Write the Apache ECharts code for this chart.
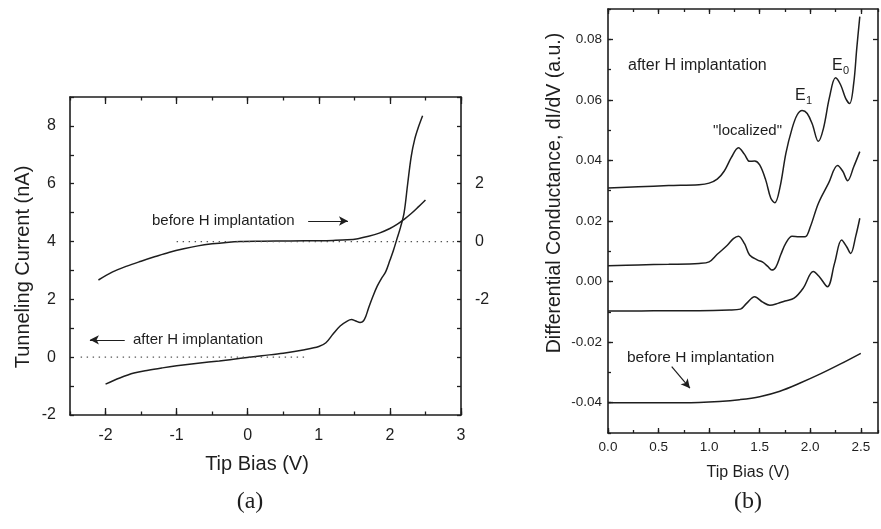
<!DOCTYPE html>
<html><head><meta charset="utf-8">
<script src="https://cdn.jsdelivr.net/npm/echarts@6/dist/echarts.min.js"></script>
<style>html,body{margin:0;padding:0;background:#fff}#c{width:881px;height:529px}</style>
</head><body><div id="c"></div>
<script>
// ---------- Panel (a): tunneling current vs tip bias ----------
const aBeforeX = [-2.1, -1.9, -1.7, -1.5, -1.3, -1.1, -0.9, -0.7, -0.5, -0.3, -0.1, 0.2, 0.6, 1.0, 1.2, 1.4, 1.55, 1.7, 1.85, 2.0, 2.1, 2.2, 2.3, 2.4, 2.5];
const aBeforeY = [-1.33, -1.05, -0.85, -0.68, -0.52, -0.37, -0.25, -0.15, -0.08, -0.03, 0, 0.01, 0.02, 0.03, 0.04, 0.06, 0.1, 0.18, 0.29, 0.45, 0.59, 0.77, 0.97, 1.2, 1.44]; // right axis
const aAfterX = [-2.0, -1.8, -1.6, -1.4, -1.2, -1.0, -0.7, -0.4, -0.1, 0.2, 0.5, 0.8, 1.0, 1.1, 1.2, 1.3, 1.4, 1.46, 1.52, 1.58, 1.64, 1.7, 1.76, 1.82, 1.88, 1.94, 2.0, 2.05, 2.1, 2.15, 2.2, 2.25, 2.3, 2.35, 2.4, 2.46];
const aAfterY = [-0.93, -0.72, -0.55, -0.45, -0.37, -0.30, -0.21, -0.13, -0.04, 0.05, 0.14, 0.26, 0.37, 0.5, 0.8, 1.08, 1.25, 1.3, 1.25, 1.2, 1.3, 1.7, 2.1, 2.45, 2.72, 2.95, 3.35, 3.7, 4.1, 4.5, 5.0, 6.0, 6.95, 7.55, 7.95, 8.35]; // left axis
const aZeroBeforeX = [-1, 3];      // dotted zero of "before" (right axis)
const aZeroAfterX = [-2.35, 0.8];  // dotted zero of "after" (left axis)
const aXLabels = [-2, -1, 0, 1, 2, 3];
const aYLeftLabels = [-2, 0, 2, 4, 6, 8];
const aYRightLabels = [-2, 0, 2];

// ---------- Panel (b): differential conductance ----------
const bTopX = [0, 0.3, 0.6, 0.9, 1.0, 1.08, 1.15, 1.22, 1.29, 1.35, 1.4, 1.45, 1.5, 1.56, 1.61, 1.65, 1.7, 1.76, 1.82, 1.87, 1.92, 1.97, 2.02, 2.08, 2.13, 2.19, 2.25, 2.3, 2.35, 2.39, 2.43, 2.46, 2.49];
const bTopY = [0.0309, 0.0313, 0.0317, 0.032, 0.0325, 0.0338, 0.0365, 0.041, 0.0442, 0.042, 0.0397, 0.0398, 0.0385, 0.0335, 0.0275, 0.026, 0.031, 0.0425, 0.0505, 0.055, 0.0565, 0.0555, 0.052, 0.0463, 0.0505, 0.0608, 0.0673, 0.065, 0.0605, 0.0588, 0.0655, 0.077, 0.0875];
const bMidX = [0, 0.3, 0.6, 0.9, 1.0, 1.08, 1.18, 1.24, 1.29, 1.35, 1.4, 1.48, 1.53, 1.58, 1.62, 1.66, 1.71, 1.76, 1.82, 1.89, 1.95, 2.0, 2.08, 2.18, 2.27, 2.32, 2.37, 2.43, 2.49];
const bMidY = [0.0052, 0.0055, 0.0057, 0.006, 0.0065, 0.009, 0.012, 0.0142, 0.015, 0.0125, 0.0088, 0.0071, 0.0064, 0.005, 0.0038, 0.0048, 0.009, 0.0128, 0.015, 0.0148, 0.0148, 0.018, 0.0258, 0.0324, 0.0383, 0.0365, 0.0333, 0.0379, 0.0429];
const bLowX = [0, 0.3, 0.6, 0.9, 1.2, 1.31, 1.37, 1.45, 1.53, 1.6, 1.68, 1.75, 1.84, 1.93, 2.03, 2.09, 2.17, 2.24, 2.31, 2.36, 2.4, 2.45, 2.49];
const bLowY = [-0.0097, -0.0097, -0.0096, -0.0096, -0.0094, -0.0091, -0.0072, -0.005, -0.0068, -0.0078, -0.0072, -0.0064, -0.0055, -0.0022, 0.0033, 0.0016, -0.0017, 0.006, 0.0137, 0.0115, 0.0093, 0.015, 0.0209];
const bBeforeX = [0, 0.5, 0.9, 1.1, 1.3, 1.5, 1.7, 1.9, 2.1, 2.3, 2.5];
const bBeforeY = [-0.04, -0.04, -0.0399, -0.0396, -0.039, -0.038, -0.0362, -0.0335, -0.0305, -0.0272, -0.0237];
const bXLabels = [0, 0.5, 1, 1.5, 2, 2.5];
const bYLabels = [-0.04, -0.02, 0, 0.02, 0.04, 0.06, 0.08];

// ---------- helpers ----------
const zip = (xs, ys) => xs.map((x, i) => [x, ys[i]]);
const near = (list, v) => list.some(t => Math.abs(t - v) < 1e-9);
const INK = '#1e1e1e';
const FONT = '"Liberation Sans", Arial, Helvetica, sans-serif';

function axis(dim, o) {
  return {
    type: 'value', gridIndex: o.grid, position: o.pos,
    min: o.min, max: o.max, interval: o.step,
    axisLine: { show: o.line !== false, onZero: false, lineStyle: { color: INK, width: 1.6 } },
    axisTick: Object.assign({ show: true, inside: true, length: o.tick || 3.5, lineStyle: { color: INK, width: 1.3 } },
                            o.custom ? { customValues: o.custom } : {}),
    axisLabel: o.fmt ? { show: true, formatter: o.fmt, color: INK, fontFamily: FONT, fontSize: o.fs || 15, margin: o.margin || 10 } : { show: false },
    splitLine: { show: false },
    z: 5
  };
}

const fmtA = v => near(aXLabels, v) ? String(Math.round(v)) : '';
const fmtAL = v => near(aYLeftLabels, v) ? String(Math.round(v)) : '';
const fmtAR = v => near(aYRightLabels, v) ? String(Math.round(v)) : '';
const fmtBX = v => near(bXLabels, v) ? v.toFixed(1) : '';
const fmtBY = v => near(bYLabels, v) ? (Math.abs(v) < 1e-9 ? '0.00' : v.toFixed(2)) : '';

const B_MAX = 2.67;
const xAxes = [
  axis('x', { grid: 0, pos: 'bottom', min: -2.5, max: 3, step: 0.5, tick: 3.5, fmt: fmtA, fs: 16, margin: 13 }),
  axis('x', { grid: 0, pos: 'bottom', min: -2.5, max: 3, step: 0.5, tick: 7, line: false, custom: aXLabels }),
  axis('x', { grid: 0, pos: 'top', min: -2.5, max: 3, step: 0.5, tick: 3.5 }),
  axis('x', { grid: 0, pos: 'top', min: -2.5, max: 3, step: 0.5, tick: 7, line: false, custom: aXLabels }),
  axis('x', { grid: 1, pos: 'bottom', min: 0, max: B_MAX, step: 0.25, tick: 3, fmt: fmtBX, fs: 13.5, margin: 7 }),
  axis('x', { grid: 1, pos: 'bottom', min: 0, max: B_MAX, step: 0.25, tick: 5, line: false, custom: bXLabels }),
  axis('x', { grid: 1, pos: 'top', min: 0, max: B_MAX, step: 0.25, tick: 3 }),
  axis('x', { grid: 1, pos: 'top', min: 0, max: B_MAX, step: 0.25, tick: 5, line: false, custom: bXLabels })
];
const yAxes = [
  axis('y', { grid: 0, pos: 'left', min: -2, max: 9, step: 1, tick: 4, fmt: fmtAL, fs: 16, margin: 14 }),
  axis('y', { grid: 0, pos: 'right', min: -6, max: 5, step: 1, tick: 4, fmt: fmtAR, fs: 16, margin: 14 }),
  axis('y', { grid: 1, pos: 'left', min: -0.05, max: 0.09, step: 0.01, tick: 3, fmt: fmtBY, fs: 13.5, margin: 6 }),
  axis('y', { grid: 1, pos: 'left', min: -0.05, max: 0.09, step: 0.01, tick: 5, line: false, custom: bYLabels }),
  axis('y', { grid: 1, pos: 'right', min: -0.05, max: 0.09, step: 0.01, tick: 5, custom: bYLabels })
];

const curve = (name, data, xi, yi, extra) => Object.assign({
  name, type: 'line', data, xAxisIndex: xi, yAxisIndex: yi,
  showSymbol: false, smooth: 0.35, animation: false, silent: true,
  lineStyle: { color: INK, width: 1.5 }, z: 3
}, extra || {});

const dotted = (name, data, xi, yi) => curve(name, data, xi, yi, {
  smooth: false, lineStyle: { color: '#555', width: 1.3, type: [1.4, 4.6] }
});

const arrow = (from, to) => ({
  silent: true, animation: false, symbol: ['none', 'arrow'], symbolSize: [7, 9],
  label: { show: false }, lineStyle: { color: INK, width: 1.2, type: 'solid' },
  data: [[{ coord: from }, { coord: to }]]
});

const txt = (text, x, y, fs, o) => ({
  type: 'text', x, y, rotation: (o && o.rot) || 0, silent: true,
  style: {
    text, fill: INK, fontSize: fs, fontFamily: (o && o.font) || FONT,
    align: (o && o.align) || 'left', textAlign: (o && o.align) || 'left',
    verticalAlign: 'middle', textVerticalAlign: 'middle'
  }
});

const chart = echarts.init(document.getElementById('c'), null, { renderer: 'canvas' });
chart.setOption({
  backgroundColor: '#ffffff',
  animation: false,
  grid: [
    { left: 70, right: 420, top: 97, bottom: 114 },
    { left: 608, width: 276, top: 9, bottom: 96 }
  ],
  xAxis: xAxes,
  yAxis: yAxes,
  series: [
    curve('before (a)', zip(aBeforeX, aBeforeY), 0, 1, { markLine: arrow([0.85, 0.71], [1.41, 0.71]) }),
    curve('after (a)', zip(aAfterX, aAfterY), 0, 0, { markLine: arrow([-1.73, 0.6], [-2.22, 0.6]) }),
    dotted('zero before', zip(aZeroBeforeX, [0, 0]), 0, 1),
    dotted('zero after', zip(aZeroAfterX, [0, 0]), 0, 0),
    curve('after top', zip(bTopX, bTopY), 4, 2),
    curve('after mid', zip(bMidX, bMidY), 4, 2),
    curve('after low', zip(bLowX, bLowY), 4, 2),
    curve('before (b)', zip(bBeforeX, bBeforeY), 4, 2, { markLine: arrow([0.63, -0.0281], [0.81, -0.0352]) })
  ],
  graphic: [
    txt('Tunneling Current (nA)', 23, 267, 20, { rot: Math.PI / 2, align: 'center' }),
    txt('Tip Bias (V)', 257, 464, 20, { align: 'center' }),
    txt('before H implantation', 152, 221, 15),
    txt('after H implantation', 133, 340, 15),
    txt('(a)', 250, 502, 24, { align: 'center', font: '"Liberation Serif", "Times New Roman", serif' }),
    txt('Differential Conductance, dI/dV (a.u.)', 555, 193, 19.5, { rot: Math.PI / 2, align: 'center' }),
    txt('Tip Bias (V)', 748, 473, 16, { align: 'center' }),
    txt('after H implantation', 628, 66, 16),
    txt('"localized"', 713, 131, 15),
    txt('E', 795, 96, 16),
    txt('1', 806, 101, 11),
    txt('E', 832, 66, 16),
    txt('0', 843, 71, 11),
    txt('before H implantation', 627, 358, 15.5),
    txt('(b)', 748, 502, 24, { align: 'center', font: '"Liberation Serif", "Times New Roman", serif' })
  ]
});
</script>
</body></html>
